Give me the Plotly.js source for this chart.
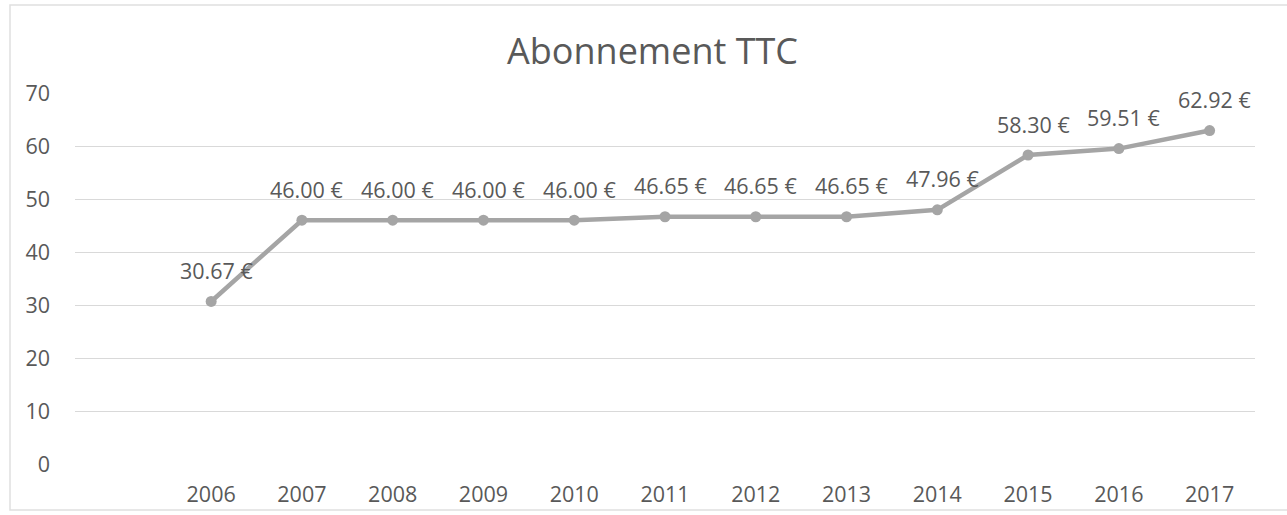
<!DOCTYPE html>
<html>
<head>
<meta charset="utf-8">
<script src="https://cdn.plot.ly/plotly-3.0.1.min.js"></script>
<style>html,body{margin:0;padding:0;background:#fff;}#chart{width:1287px;height:515px;}</style>
</head>
<body>
<div id="chart"></div>
<script>
const years = [2006, 2007, 2008, 2009, 2010, 2011, 2012, 2013, 2014, 2015, 2016, 2017];
const prices = [30.67, 46.00, 46.00, 46.00, 46.00, 46.65, 46.65, 46.65, 47.96, 58.30, 59.51, 62.92];
const yTicks = [0, 10, 20, 30, 40, 50, 60, 70];
const titleText = "Abonnement TTC";

const FONT = "Open Sans, Liberation Sans, sans-serif";
const TXT = "#595959";

const trace = {
  x: years,
  y: prices,
  type: "scatter",
  mode: "lines+markers",
  line: {color: "#a5a5a5", width: 4.5},
  marker: {color: "#a5a5a5", size: 11},
  hoverinfo: "skip",
  showlegend: false
};

const annotations = years.map((yr, i) => ({
  x: yr, y: prices[i], xref: "x", yref: "y",
  text: prices[i].toFixed(2) + " €",
  showarrow: false, yshift: 31, xshift: 5,
  font: {family: FONT, size: 21.5, color: TXT}
}));

const layout = {
  width: 1287, height: 515,
  margin: {l: 75, r: 32, t: 93, b: 51},
  paper_bgcolor: "#fff", plot_bgcolor: "#fff",
  title: {text: titleText, x: 0.507, xref: "container", y: 0.9, yref: "container", yanchor: "middle",
          font: {family: FONT, size: 36, color: TXT}},
  xaxis: {
    range: [2004.5, 2017.5], tickvals: years, ticktext: years.map(String),
    showgrid: false, zeroline: false, showline: false, ticks: "",
    ticklabelstandoff: 15,
    tickfont: {family: FONT, size: 21.5, color: TXT}, fixedrange: true
  },
  yaxis: {
    range: [0, 70], tickvals: yTicks, showgrid: true, gridcolor: "#d9d9d9", gridwidth: 1,
    zeroline: false, showline: false, ticks: "", ticklabelstandoff: 24,
    tickfont: {family: FONT, size: 21.5, color: TXT}, fixedrange: true
  },
  annotations: annotations,
  shapes: [{
    type: "rect", xref: "paper", yref: "paper",
    x0: (10 - 75) / 1180, x1: (1295 - 75) / 1180,
    y0: (464 - 510) / 371, y1: (464 - 5) / 371,
    line: {color: "#e0e0e0", width: 1.5}, fillcolor: "rgba(0,0,0,0)", layer: "below"
  }]
};

Plotly.newPlot("chart", [trace], layout, {displayModeBar: false, staticPlot: true});
</script>
</body>
</html>
